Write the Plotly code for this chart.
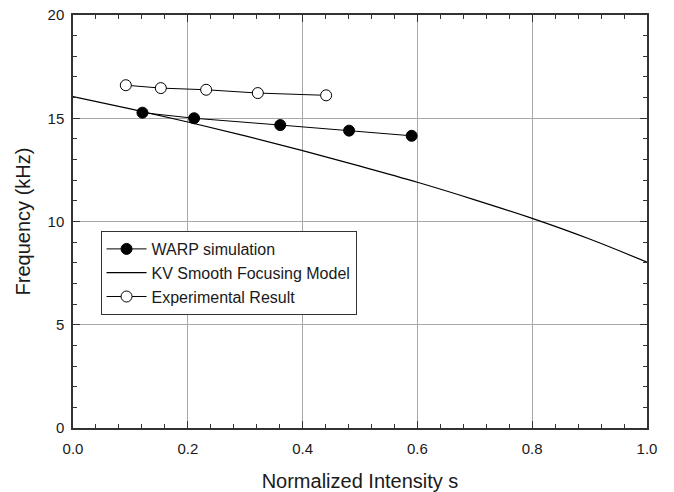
import plotly.graph_objects as go

# WARP simulation results
warp_s = [0.121, 0.211, 0.361, 0.481, 0.590]
warp_f = [15.27, 15.00, 14.67, 14.40, 14.15]

# Experimental measurements
exp_s = [0.092, 0.153, 0.232, 0.322, 0.441]
exp_f = [16.60, 16.46, 16.38, 16.22, 16.11]

# KV smooth focusing model curve
kv_s = [0.0, 0.1, 0.2, 0.3, 0.4, 0.5, 0.6, 0.7, 0.8, 0.9, 1.0]
kv_f = [16.05, 15.45, 14.82, 14.15, 13.43, 12.68, 11.90, 11.05, 10.15, 9.15, 8.03]

x_ticks = [0.0, 0.2, 0.4, 0.6, 0.8, 1.0]
x_tick_labels = ["0.0", "0.2", "0.4", "0.6", "0.8", "1.0"]
y_ticks = [0, 5, 10, 15, 20]

FONT = "Liberation Sans, Arial, sans-serif"
INK = "#1a1a1a"

fig = go.Figure()
fig.add_trace(go.Scatter(
    x=warp_s, y=warp_f, mode="lines+markers", name="WARP simulation",
    line=dict(color="black", width=1),
    marker=dict(symbol="circle", size=11, color="black", line=dict(color="black", width=1)),
))
fig.add_trace(go.Scatter(
    x=kv_s, y=kv_f, mode="lines", name="KV Smooth Focusing Model",
    line=dict(color="black", width=1.2, shape="spline"),
))
fig.add_trace(go.Scatter(
    x=exp_s, y=exp_f, mode="lines+markers", name="Experimental Result",
    line=dict(color="black", width=1),
    marker=dict(symbol="circle", size=11, color="white", line=dict(color="black", width=1)),
))

axis_common = dict(
    showline=True, linecolor="#333", linewidth=1.5, mirror="ticks",
    ticks="inside", ticklen=7, tickcolor="#333", tickwidth=1,
    showgrid=True, gridcolor="#a8a8a8", gridwidth=1, zeroline=False,
    tickfont=dict(family=FONT, size=15, color=INK),
    automargin=False,
)

fig.update_xaxes(
    range=[0, 1.0], tickvals=x_ticks, ticktext=x_tick_labels,
    ticklabelstandoff=6,
    title=dict(text="Normalized Intensity s", font=dict(family=FONT, size=20, color=INK), standoff=22),
    minor=dict(ticks="inside", dtick=0.04, tick0=0, ticklen=4, tickcolor="#333", showgrid=False),
    **axis_common,
)
fig.update_yaxes(
    range=[0, 20], tickvals=y_ticks,
    ticklabelstandoff=4,
    title=dict(text="Frequency (kHz)", font=dict(family=FONT, size=20, color=INK), standoff=12),
    minor=dict(ticks="inside", dtick=1, tick0=0, ticklen=4, tickcolor="#333", showgrid=False),
    **axis_common,
)

fig.update_layout(
    width=674, height=492,
    margin=dict(l=73, r=27, t=15, b=64),
    paper_bgcolor="white", plot_bgcolor="white",
    font=dict(family=FONT, size=15, color=INK),
    legend=dict(
        x=0.048, y=0.477, xanchor="left", yanchor="top",
        bgcolor="white", bordercolor="#333", borderwidth=1,
        font=dict(family=FONT, size=16, color=INK),
        itemwidth=40, tracegroupgap=0,
    ),
    showlegend=True,
)

fig.write_html("out.html")
